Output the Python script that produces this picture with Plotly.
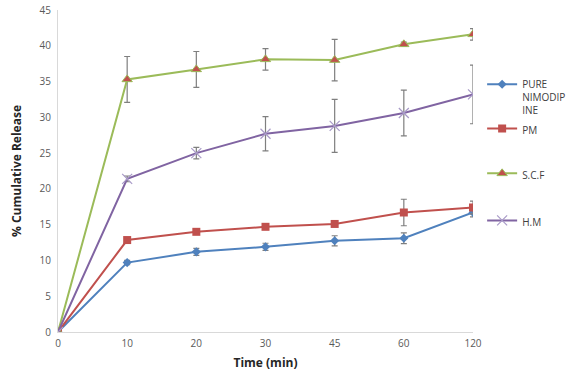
import plotly.graph_objects as go

time_labels = ["0", "10", "20", "30", "45", "60", "120"]

pure_vals = [0, 9.7, 11.2, 11.9, 12.75, 13.1, 16.7]
pure_err = [0, 0.3, 0.5, 0.5, 0.7, 0.75, 0.6]

pm_vals = [0, 12.85, 14.0, 14.7, 15.1, 16.7, 17.4]
pm_err = [0, 0.2, 0.2, 0.2, 0.2, 1.85, 0.9]

scf_vals = [0, 35.3, 36.7, 38.1, 38.0, 40.2, 41.6]
scf_err = [0, 3.2, 2.5, 1.5, 2.9, 0.3, 0.8]

hm_vals = [0, 21.4, 25.0, 27.7, 28.8, 30.6, 33.2]
hm_err = [0, 0.4, 0.8, 2.4, 3.7, 3.2, 4.1]

series_names = ["PURE<br>NIMODIP<br>INE", "PM", "S.C.F", "H.M"]

xpos = list(range(len(time_labels)))

err_style = dict(type="data", visible=True, color="#7f7f7f", thickness=1.2, width=3)

fig = go.Figure()

fig.add_trace(go.Scatter(
    x=xpos, y=pure_vals, name=series_names[0], mode="lines+markers",
    line=dict(color="#4F81BD", width=2),
    marker=dict(symbol="diamond", size=7, color="#4F81BD"),
    error_y=dict(array=pure_err, **err_style),
    legend="legend"))
fig.add_trace(go.Scatter(
    x=xpos, y=pm_vals, name=series_names[1], mode="lines+markers",
    line=dict(color="#C0504D", width=2),
    marker=dict(symbol="square", size=8, color="#C0504D"),
    error_y=dict(array=pm_err, **err_style),
    legend="legend2"))
fig.add_trace(go.Scatter(
    x=xpos, y=scf_vals, name=series_names[2], mode="lines+markers",
    line=dict(color="#9BBB59", width=2),
    marker=dict(symbol="triangle-up", size=9, color="#C0504D",
                line=dict(color="#9BBB59", width=1)),
    error_y=dict(array=scf_err, **err_style),
    legend="legend3"))
fig.add_trace(go.Scatter(
    x=xpos, y=hm_vals, name=series_names[3], mode="lines+markers",
    line=dict(color="#8064A2", width=2),
    marker=dict(symbol="x-thin-open", size=10, color="#A99BC8",
                line=dict(color="#A99BC8", width=1.2)),
    error_y=dict(array=hm_err, **err_style),
    legend="legend4"))

leg_common = dict(xanchor="left", valign="top", font=dict(size=10, color="#404040"),
                  bgcolor="rgba(0,0,0,0)", itemwidth=30, x=1.022)

fig.update_layout(
    width=572, height=379,
    margin=dict(l=58, r=99, t=10, b=47, autoexpand=False),
    paper_bgcolor="white", plot_bgcolor="white",
    font=dict(family="Open Sans, sans-serif", color="#595959"),
    showlegend=True,
    legend=dict(y=0.81, yanchor="top", **leg_common),
    legend2=dict(y=0.627, yanchor="middle", **leg_common),
    legend3=dict(y=0.488, yanchor="middle", **leg_common),
    legend4=dict(y=0.342, yanchor="middle", **leg_common),
    xaxis=dict(
        range=[0, 6], tickmode="array", tickvals=xpos, ticktext=time_labels,
        showgrid=False, zeroline=False, showline=True, linecolor="#d9d9d9",
        linewidth=1, ticks="", tickfont=dict(size=10, color="#595959"),
        automargin=False, ticklabelstandoff=2,
        title=dict(text="<b>Time (min)</b>", font=dict(size=12, color="#262626"),
                   standoff=9),
    ),
    yaxis=dict(
        range=[0, 45], tickmode="array", tickvals=list(range(0, 46, 5)),
        showgrid=False, zeroline=False, showline=True, linecolor="#d9d9d9",
        linewidth=1, ticks="", tickfont=dict(size=10, color="#595959"),
        automargin=False, ticklabelstandoff=4,
        title=dict(text="<b>% Cumulative Release</b>", font=dict(size=12, color="#262626"),
                   standoff=15),
    ),
)

fig.write_html("out.html", config={"displayModeBar": False},
               post_script="document.body.style.margin='0';")
